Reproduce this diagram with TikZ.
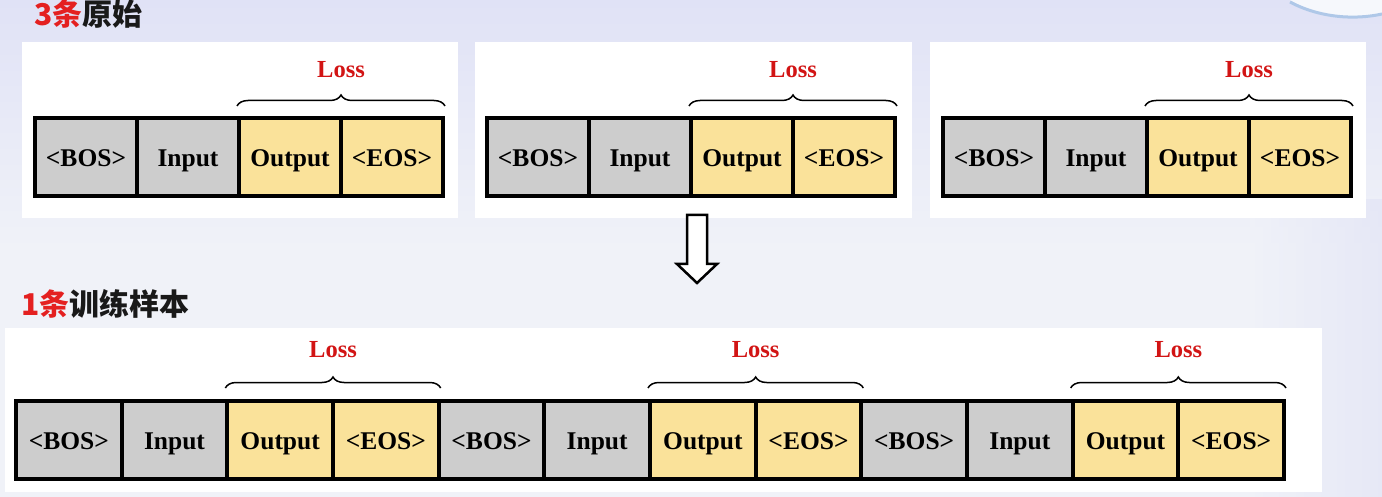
\documentclass[tikz,border=0pt]{standalone}
\usepackage{fontspec}
\setmainfont{Liberation Serif}
\newfontfamily\cjk{Noto Sans CJK SC}
\usetikzlibrary{decorations.pathreplacing}
\definecolor{bgA}{RGB}{224,226,246}
\definecolor{bgB}{RGB}{240,242,248}
\definecolor{cellgray}{RGB}{205,205,205}
\definecolor{cellyel}{RGB}{250,226,154}
\definecolor{lossred}{RGB}{210,20,20}
\definecolor{titlered}{RGB}{228,32,32}
\definecolor{titleblk}{RGB}{25,25,25}
\tikzset{
  cellbox/.style={draw=black, line width=4pt, minimum height=78pt, inner sep=0pt,
    text height=20pt, text depth=1pt,
    font=\fontsize{25.5}{30}\selectfont\bfseries},
  gcell/.style={cellbox, fill=cellgray},
  ycell/.style={cellbox, fill=cellyel},
  panel/.style={fill=white, draw=none},
  lossbrace/.style={decorate, decoration={brace, amplitude=11pt}, line width=1.5pt},
  losslabel/.style={text=lossred, font=\fontsize{24.5}{28}\selectfont\bfseries},
  titletext/.style={anchor=west, inner sep=0pt, font=\fontsize{30}{34}\selectfont\cjk\bfseries},
  hollowarrow/.style={draw=black, line width=2.5pt, fill=white, line join=miter}
}
\begin{document}
\begin{tikzpicture}[x=1pt, y=-1pt]
\useasboundingbox (0,0) rectangle (1382,497);
% background
\shade[top color=bgA, bottom color=bgB] (0,0) rectangle (1382,250);
\fill[bgB] (0,250) rectangle (1382,497);
\shade[left color=bgB, right color=bgA, opacity=0.6] (1250,200) rectangle (1382,497);
\fill[color={rgb,255:red,246;green,248;blue,252}]
  (1290,0) .. controls (1320,18) and (1355,20) .. (1382,14) -- (1382,0) -- cycle;
\draw[color={rgb,255:red,175;green,200;blue,232}, line width=3pt]
  (1290,2) .. controls (1320,18) and (1355,20) .. (1382,14);
% panels
\fill[panel] (22,42) rectangle (458,218);
\fill[panel] (475,42) rectangle (912,218);
\fill[panel] (930,42) rectangle (1366,218);
\fill[panel] (5,328) rectangle (1322,492);
% titles
\node[titletext] (t1) at (34,14) {\textcolor{titlered}{3条}\textcolor{titleblk}{原始}};
\node[titletext] (t2) at (21,304) {\textcolor{titlered}{1条}\textcolor{titleblk}{训练样本}};
\coordinate (toploss) at (0,70);
\coordinate (botloss) at (0,350);
% top rows
\foreach \r/\x in {1/35, 2/487, 3/943} {
  \node[gcell, minimum width=102pt] (r\r a) at (\x+51,157) {<BOS>};
  \node[gcell, minimum width=102pt] (r\r b) at (\x+153,157) {Input};
  \node[ycell, minimum width=102pt] (r\r c) at (\x+255,157) {Output};
  \node[ycell, minimum width=102pt] (r\r d) at (\x+357,157) {<EOS>};
  \draw[lossbrace] ([yshift=10pt]r\r c.north west) -- coordinate[pos=0.5] (r\r m) ([yshift=10pt]r\r d.north east);
  \node[losslabel] (r\r loss) at (r\r m |- toploss) {Loss};
}
% arrow
\draw[hollowarrow] (687,215) -- (707,215) -- (707,264) -- (717,264) -- (697,283)
  -- (677,264) -- (687,264) -- cycle;
% bottom row
\foreach \g in {0,1,2} {
  \pgfmathsetmacro{\xa}{16+\g*422.67}
  \node[gcell, minimum width=105.67pt] (b\g a) at (\xa+52.83,440) {<BOS>};
  \node[gcell, minimum width=105.67pt] (b\g b) at (\xa+158.5,440) {Input};
  \node[ycell, minimum width=105.67pt] (b\g c) at (\xa+264.17,440) {Output};
  \node[ycell, minimum width=105.67pt] (b\g d) at (\xa+369.83,440) {<EOS>};
  \draw[lossbrace] ([yshift=11pt]b\g c.north west) -- coordinate[pos=0.5] (b\g m) ([yshift=11pt]b\g d.north east);
  \node[losslabel] (b\g loss) at (b\g m |- botloss) {Loss};
}
\end{tikzpicture}
\end{document}
